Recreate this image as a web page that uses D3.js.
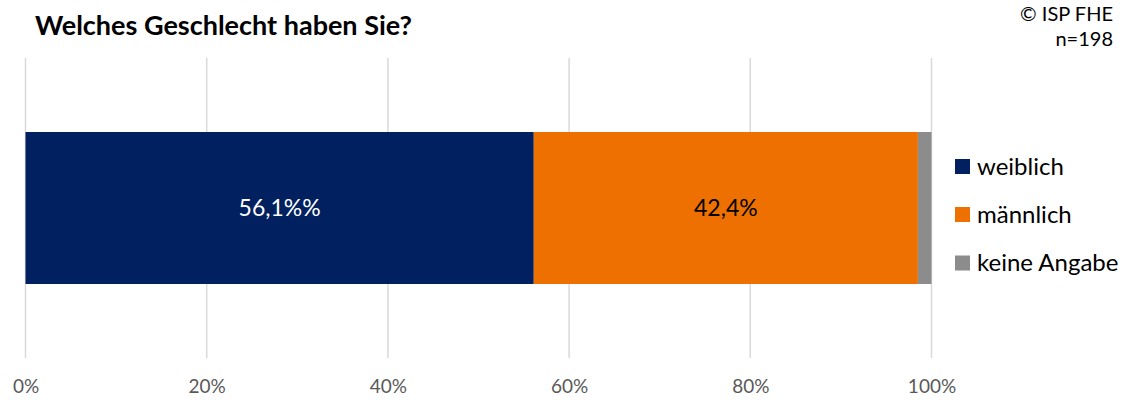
<!DOCTYPE html>
<html>
<head>
<meta charset="utf-8">
<script src="https://cdn.jsdelivr.net/npm/d3@7"></script>
<style>
  html, body { margin: 0; padding: 0; background: #fff; }
  svg { display: block; font-family: Lato, "Open Sans", "Liberation Sans", sans-serif; }
</style>
</head>
<body>
<svg id="chart" width="1131" height="405"></svg>
<script>
// Antworten auf die Frage nach dem Geschlecht (Anteile in %)
const categories = ["weiblich", "männlich", "keine Angabe"];
const values = [56.1, 42.4, 1.5];
const valueLabels = ["56,1%%", "42,4%", ""];
const colors = ["#002060", "#ED7000", "#8C8C8C"];
const labelColors = ["#ffffff", "#000000", "#000000"];
const tickValues = [0, 20, 40, 60, 80, 100];
const tickLabels = ["0%", "20%", "40%", "60%", "80%", "100%"];

const svg = d3.select("#chart");

const x = d3.scaleLinear().domain([0, 100]).range([25.5, 931.5]);
const y = d3.scaleBand().domain(["row"]).range([58, 358]).paddingInner(0).paddingOuter(0.487);

// Gitternetzlinien
svg.append("g")
  .selectAll("line")
  .data(tickValues)
  .join("line")
  .attr("x1", d => x(d)).attr("x2", d => x(d))
  .attr("y1", 58).attr("y2", 358)
  .attr("stroke", "#d9d9d9")
  .attr("stroke-width", 1.5);

// Achsenbeschriftung
const axis = d3.axisBottom(x)
  .tickValues(tickValues)
  .tickFormat((d, i) => tickLabels[i])
  .tickSize(0)
  .tickPadding(0);
const axisG = svg.append("g").attr("transform", "translate(0,379)").call(axis);
axisG.select(".domain").remove();
axisG.selectAll("text")
  .attr("fill", "#595959")
  .style("font-size", "19px")
  .style("font-family", "Lato, 'Open Sans', sans-serif");

// gestapelter Balken
const stacked = [];
let acc = 0;
values.forEach((v, i) => { stacked.push({ start: acc, end: acc + v, i }); acc += v; });

const bandY = y("row");
const bandH = y.bandwidth();

svg.append("g")
  .selectAll("rect")
  .data(stacked)
  .join("rect")
  .attr("x", d => x(d.start))
  .attr("width", d => x(d.end) - x(d.start))
  .attr("y", bandY)
  .attr("height", bandH)
  .attr("fill", d => colors[d.i]);

svg.append("g")
  .selectAll("text")
  .data(stacked.filter(d => valueLabels[d.i]))
  .join("text")
  .attr("x", d => (x(d.start) + x(d.end)) / 2)
  .attr("y", bandY + bandH / 2)
  .attr("dy", "0.35em")
  .attr("text-anchor", "middle")
  .attr("fill", d => labelColors[d.i])
  .style("font-size", "23px")
  .text(d => valueLabels[d.i]);

// Legende
const legend = svg.append("g").attr("transform", "translate(955,0)");
const legendY = [166.5, 214.5, 263];
categories.forEach((c, i) => {
  legend.append("rect")
    .attr("x", 0).attr("y", legendY[i] - 7.5)
    .attr("width", 15).attr("height", 15)
    .attr("fill", colors[i]);
  legend.append("text")
    .attr("x", 22).attr("y", legendY[i])
    .attr("dy", "0.35em")
    .attr("fill", "#000")
    .style("font-size", "24px")
    .text(c);
});

// Titel
svg.append("text")
  .attr("x", 35).attr("y", 35)
  .attr("fill", "#000")
  .style("font-size", "27px")
  .style("font-weight", "bold")
  .text("Welches Geschlecht haben Sie?");

// Quelle und Stichprobengröße
svg.append("text")
  .attr("x", 1113).attr("y", 21)
  .attr("text-anchor", "end")
  .style("font-size", "20px")
  .text("© ISP FHE");
svg.append("text")
  .attr("x", 1113).attr("y", 46)
  .attr("text-anchor", "end")
  .style("font-size", "20px")
  .text("n=198");
</script>
</body>
</html>
